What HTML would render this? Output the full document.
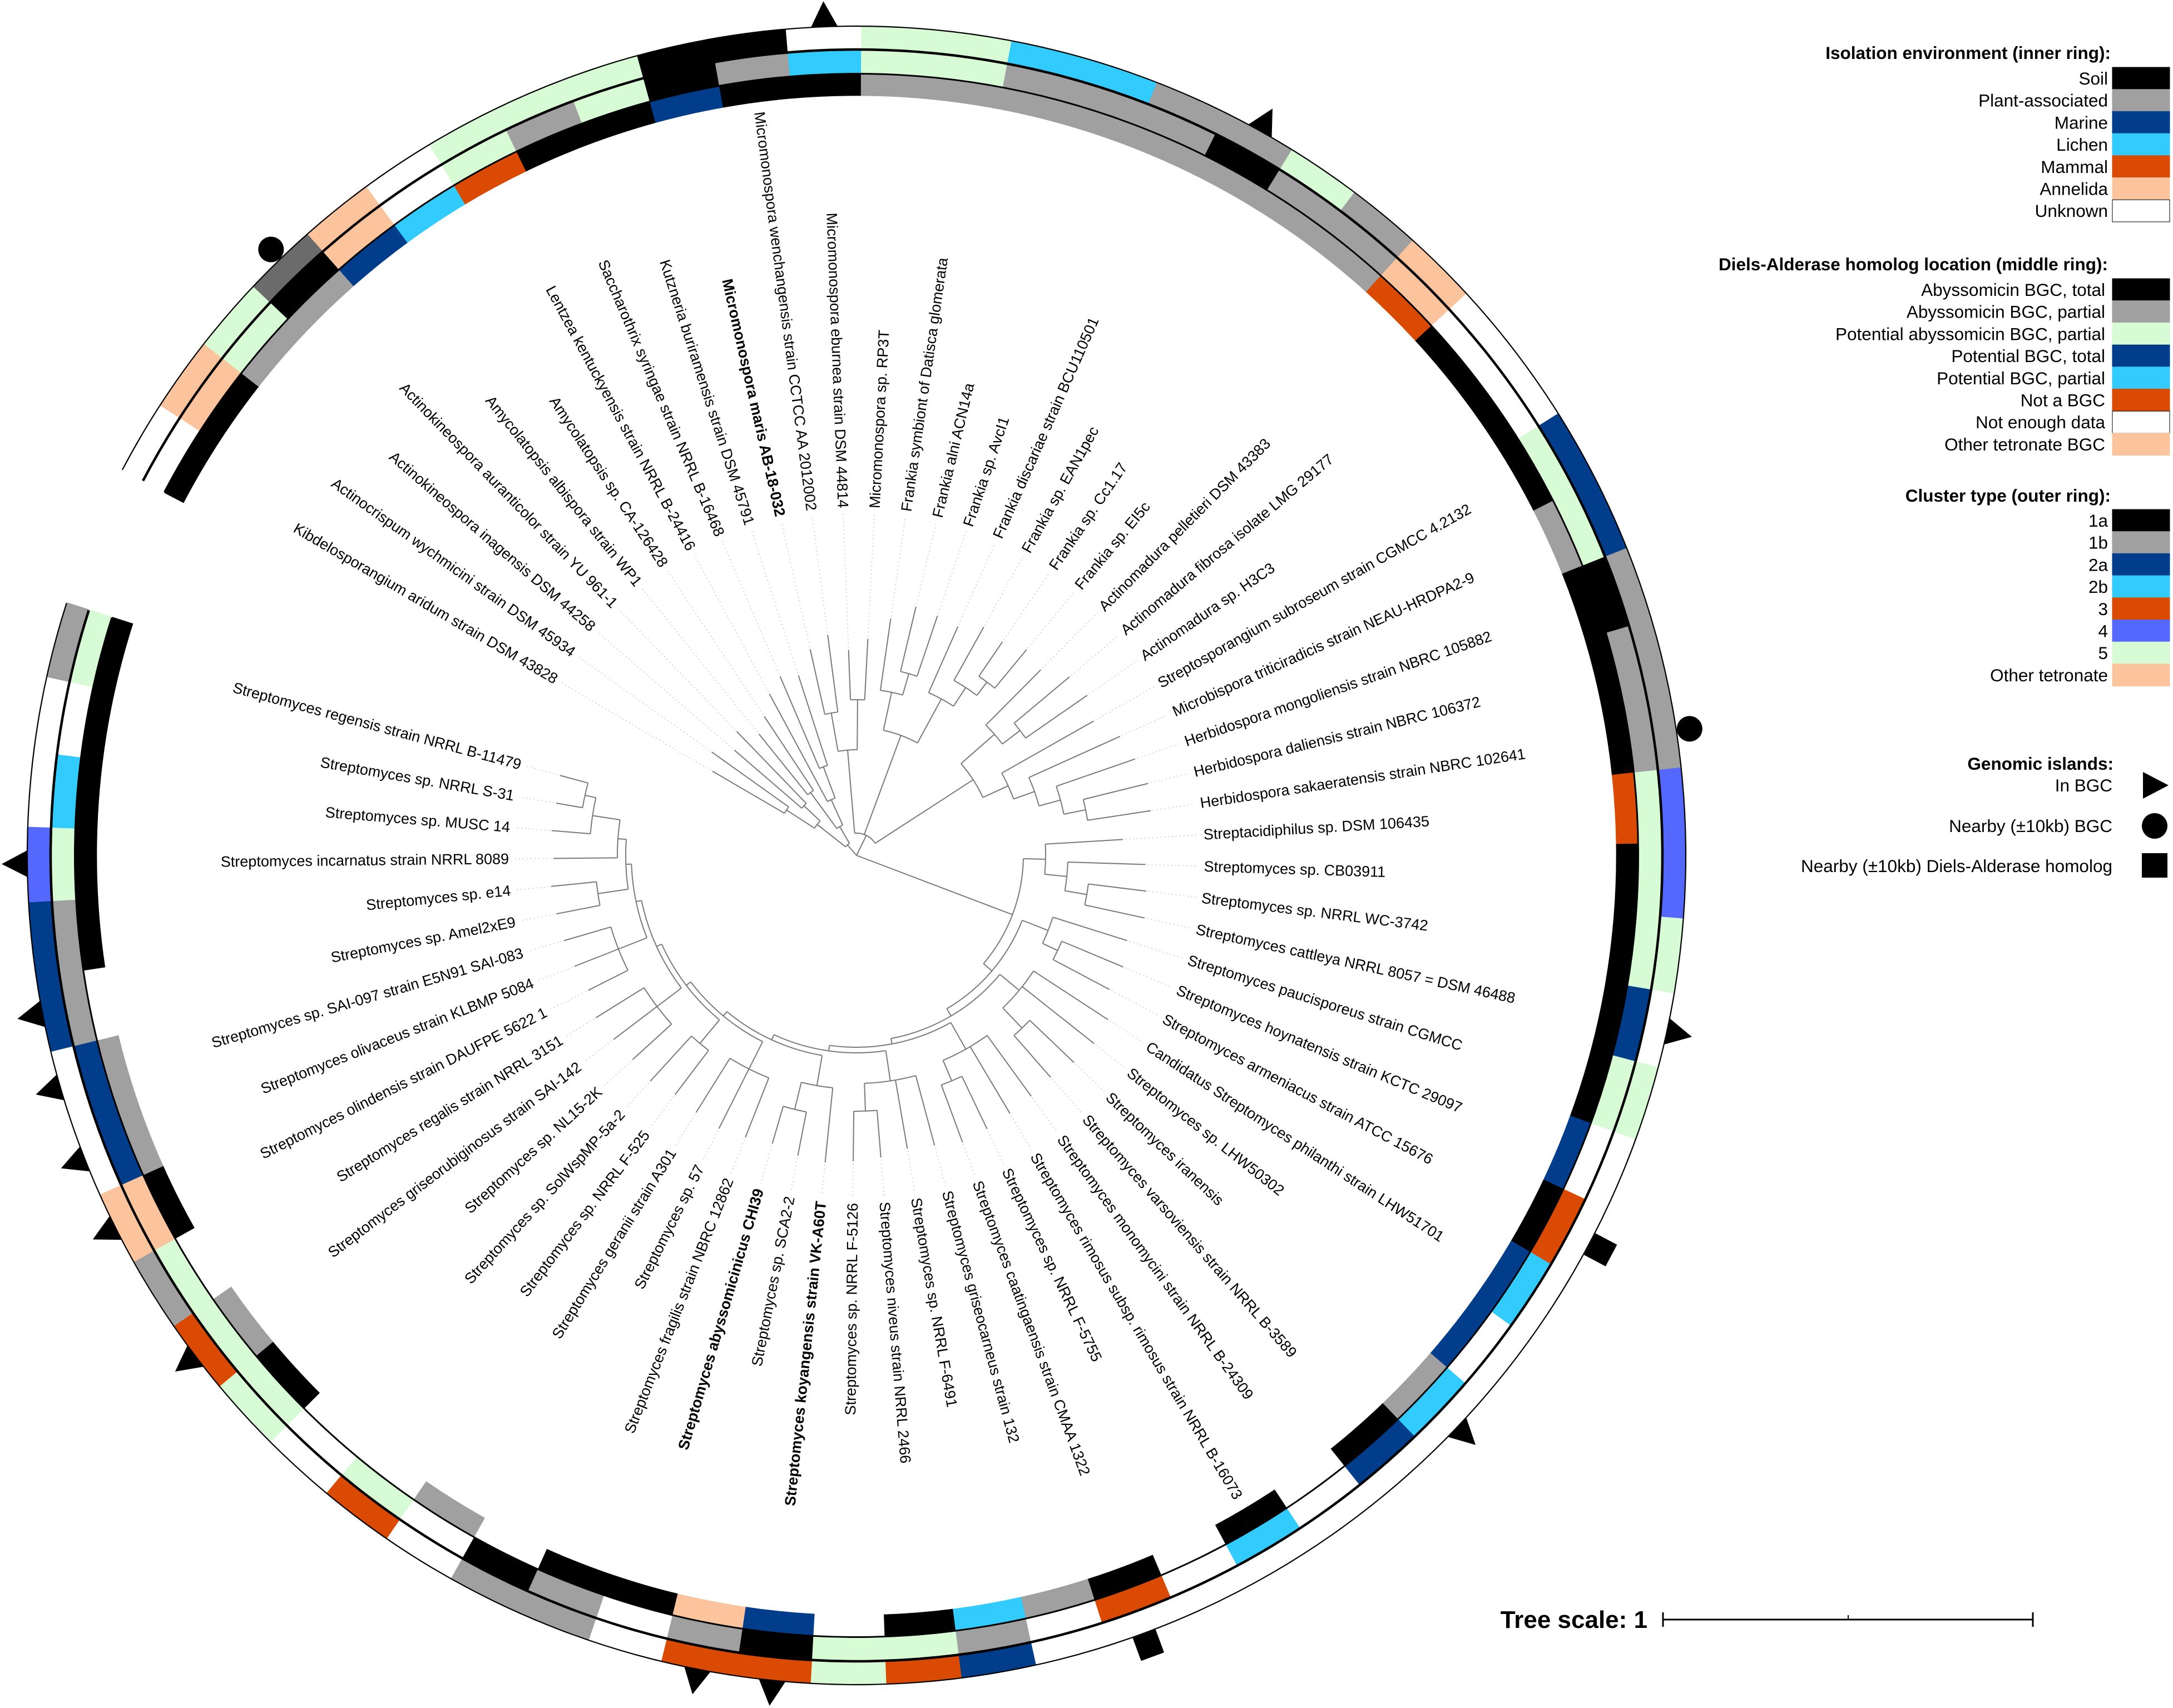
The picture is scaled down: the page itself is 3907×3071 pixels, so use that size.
<!DOCTYPE html>
<html><head><meta charset="utf-8"><title>Circular phylogenetic tree</title>
<style>
html,body{margin:0;padding:0;background:#fff;}
svg{display:block;font-family:"Liberation Sans",Arial,sans-serif;}
</style></head>
<body>
<svg id="chart" width="3907" height="3071" viewBox="0 0 3907 3071" xmlns="http://www.w3.org/2000/svg">
<g id="rings"></g>
<g id="outlines"></g>
<g id="markers"></g>
<g id="leaders"></g>
<g id="tree"></g>
<g id="labels"></g>
<g id="legend"></g>
<g id="scale">
  <text x="2962" y="2927" text-anchor="end" font-size="44" font-weight="bold">Tree scale: 1</text>
  <line x1="2990" y1="2912" x2="3655" y2="2912" stroke="#000" stroke-width="3"/>
  <line x1="2990" y1="2899" x2="2990" y2="2925" stroke="#000" stroke-width="3"/>
  <line x1="3323" y1="2904" x2="3323" y2="2912" stroke="#000" stroke-width="2"/>
  <line x1="3655" y1="2899" x2="3655" y2="2925" stroke="#000" stroke-width="3"/>
</g>
</svg>
<script>
// ---------- data ----------
const taxa = [
"Kibdelosporangium aridum strain DSM 43828","Actinocrispum wychmicini strain DSM 45934","Actinokineospora inagensis DSM 44258","Actinokineospora auranticolor strain YU 961-1","Amycolatopsis albispora strain WP1","Amycolatopsis sp. CA-126428","Lentzea kentuckyensis strain NRRL B-24416","Saccharothrix syringae strain NRRL B-16468","Kutzneria buriramensis strain DSM 45791","Micromonospora maris AB-18-032","Micromonospora wenchangensis strain CCTCC AA 2012002","Micromonospora eburnea strain DSM 44814","Micromonospora sp. RP3T","Frankia symbiont of Datisca glomerata","Frankia alni ACN14a","Frankia sp. AvcI1","Frankia discariae strain BCU110501","Frankia sp. EAN1pec","Frankia sp. Cc1.17","Frankia sp. EI5c","Actinomadura pelletieri DSM 43383","Actinomadura fibrosa isolate LMG 29177","Actinomadura sp. H3C3","Streptosporangium subroseum strain CGMCC 4.2132","Microbispora triticiradicis strain NEAU-HRDPA2-9","Herbidospora mongoliensis strain NBRC 105882","Herbidospora daliensis strain NBRC 106372","Herbidospora sakaeratensis strain NBRC 102641","Streptacidiphilus sp. DSM 106435","Streptomyces sp. CB03911","Streptomyces sp. NRRL WC-3742","Streptomyces cattleya NRRL 8057 = DSM 46488","Streptomyces paucisporeus strain CGMCC","Streptomyces hoynatensis strain KCTC 29097","Streptomyces armeniacus strain ATCC 15676","Candidatus Streptomyces philanthi strain LHW51701","Streptomyces sp. LHW50302","Streptomyces iranensis","Streptomyces varsoviensis strain NRRL B-3589","Streptomyces monomycini strain NRRL B-24309","Streptomyces rimosus subsp. rimosus strain NRRL B-16073","Streptomyces sp. NRRL F-5755","Streptomyces caatingaensis strain CMAA 1322","Streptomyces griseocarneus strain 132","Streptomyces sp. NRRL F-6491","Streptomyces niveus strain NRRL 2466","Streptomyces sp. NRRL F-5126","Streptomyces koyangensis strain VK-A60T","Streptomyces sp. SCA2-2","Streptomyces abyssomicinicus CHI39","Streptomyces fragilis strain NBRC 12862","Streptomyces sp. 57","Streptomyces geranii strain A301","Streptomyces sp. NRRL F-525","Streptomyces sp. SolWspMP-5a-2","Streptomyces sp. NL15-2K","Streptomyces griseorubiginosus strain SAI-142","Streptomyces regalis strain NRRL 3151","Streptomyces olindensis strain DAUFPE 5622 1","Streptomyces olivaceus strain KLBMP 5084","Streptomyces sp. SAI-097 strain E5N91 SAI-083","Streptomyces sp. Amel2xE9","Streptomyces sp. e14","Streptomyces incarnatus strain NRRL 8089","Streptomyces sp. MUSC 14","Streptomyces sp. NRRL S-31","Streptomyces regensis strain NRRL B-11479"];
const boldTaxa = [9,47,49];
const innerRing = ["K","K","G","G","DB","C","O","K","K","DB","K","K","G","G","G","G","G","G","G","G","O","K","K","K","G","K","K","K","O","K","K","K","K","DB","K","DB","DB","G","K","W","K","W","K","G","C","K","W","DB","P","K","K","W","G","W","W","K","G","W","K","G","G","W","K","K","K","K","K"];
const middleRing = ["W","P","LG","K","P","W","LG","G","LG","K","G","C","LG","LG","G","G","G","K","G","G","P","W","W","LG","LG","K","G","G","LG","LG","LG","DB","LG","W","O","C","W","C","DB","W","C","W","O","W","G","LG","LG","K","G","W","G","K","W","LG","W","LG","LG","LG","P","DB","DB","G","G","LG","C","W","LG"];
const outerRing = ["W","P","LG","DG","P","W","LG","LG","LG","K","K","W","LG","LG","C","C","G","G","LG","G","P","W","W","DB","DB","G","G","G","B4","B4","LG","W","LG","W","W","W","W","W","W","W","W","W","W","W","DB","O","LG","O","O","W","G","G","W","O","W","LG","O","G","P","W","W","DB","DB","B4","W","W","G"];
const triangleTaxa = [11,17,31,37,47,48,56,58,59,60,61,63];
const circleTaxa = [3,27];
const squareTaxa = [34,42];
const tipRadius = [300,320,290,310,280,300,330,350,340,380,400,370,390,430,460,455,450,470,465,480,470,500,505,490,520,530,540,535,480,520,525,530,510,520,515,540,545,540,530,535,540,545,550,540,535,545,550,555,550,540,545,550,545,540,550,545,548,552,540,545,548,550,552,545,550,548,552];
const legendEnv = ["Soil","Plant-associated","Marine","Lichen","Mammal","Annelida","Unknown"];
const legendEnvCodes = ["K","G","DB","C","O","P","W"];
const legendDA = ["Abyssomicin BGC, total","Abyssomicin BGC, partial","Potential abyssomicin BGC, partial","Potential BGC, total","Potential BGC, partial","Not a BGC","Not enough data","Other tetronate BGC"];
const legendDACodes = ["K","G","LG","DB","C","O","W","P"];
const legendCT = ["1a","1b","2a","2b","3","4","5","Other tetronate"];
const legendCTCodes = ["K","G","DB","C","O","B4","LG","P"];

const COLORS = {K:"#000000",G:"#a0a0a0",DB:"#013d8b",C:"#31ccfd",O:"#db4a02",P:"#fbc49d",W:"#ffffff",LG:"#d7fbd5",B4:"#5468fd",DG:"#6b6b6b"};

// tree topology (leaf = index, node radius in px)
const cladeP = {r:25,c:[{r:90,c:[{r:150,c:[0,1]},{r:130,c:[2,3]}]},{r:60,c:[{r:140,c:[4,5]},{r:110,c:[6,{r:170,c:[7,8]}]}]}]};
const cladeM1 = {r:190,c:[{r:260,c:[9,10]},{r:280,c:[11,12]}]};
const cladeM2 = {r:230,c:[{r:300,c:[13,{r:340,c:[14,15]}]},{r:320,c:[16,{r:360,c:[17,{r:390,c:[18,19]}]}]}]};
const cladeM3a = {r:340,c:[24,{r:380,c:[25,{r:420,c:[26,27]}]}]};
const cladeM3 = {r:250,c:[{r:330,c:[20,{r:370,c:[21,22]}]},{r:300,c:[23,cladeM3a]}]};
const cladeM = {r:40,c:[cladeM1,cladeM2,cladeM3]};
const sA = {r:340,c:[28,{r:380,c:[29,{r:420,c:[30,31]}]}]};
const sL9 = {r:430,c:[63,{r:480,c:[64,{r:500,c:[65,66]}]}]};
const sL8 = {r:415,c:[{r:470,c:[61,62]}, sL9]};
const sL7 = {r:405,c:[{r:460,c:[58,59,60]}, sL8]};
const sL6 = {r:395,c:[{r:450,c:[55,56,57]}, sL7]};
const sL5 = {r:385,c:[{r:440,c:[53,54]}, sL6]};
const sL4 = {r:375,c:[{r:430,c:[50,51,52]}, sL5]};
const sL3 = {r:365,c:[{r:420,c:[47,{r:470,c:[48,49]}]}, sL4]};
const sL2 = {r:355,c:[{r:410,c:[43,44,{r:460,c:[45,46]}]}, sL3]};
const sL1 = {r:345,c:[{r:400,c:[39,40,{r:440,c:[41,42]}]}, sL2]};
const sL0 = {r:335,c:[{r:380,c:[35,36,{r:430,c:[37,38]}]}, sL1]};
const sB = {r:320,c:[{r:370,c:[32,{r:400,c:[33,34]}]}, sL0]};
const cladeS = {r:300,c:[sA,sB]};
const treeData = {r:0,c:[cladeP,cladeM,cladeS]};

// ---------- geometry ----------
const NS = "http://www.w3.org/2000/svg";
const cx = 1540, cy = 1538;
const A0 = 152.3, STEP = 5.224;
const R_IN = [1366,1405], R_MID = [1406,1448], R_OUT = [1450,1491];
function ang(i){ return A0 - (i+0.5)*STEP; }
function P(r,a){ const t=a*Math.PI/180; return [cx+r*Math.cos(t), cy-r*Math.sin(t)]; }
function sector(r1,r2,a1,a2){
  const p1=P(r2,a1),p2=P(r2,a2),p3=P(r1,a2),p4=P(r1,a1); const L=(a1-a2)>180?1:0;
  return `M${p1[0]},${p1[1]}A${r2},${r2} 0 ${L} 1 ${p2[0]},${p2[1]}L${p3[0]},${p3[1]}A${r1},${r1} 0 ${L} 0 ${p4[0]},${p4[1]}Z`;
}
function arcPath(r,a1,a2){
  const p1=P(r,a1),p2=P(r,a2); const L=(a1-a2)>180?1:0;
  return `M${p1[0]},${p1[1]}A${r},${r} 0 ${L} 1 ${p2[0]},${p2[1]}`;
}
function mk(tag,attrs,parent){ const e=document.createElementNS(NS,tag); for(const k in attrs) e.setAttribute(k,attrs[k]); parent.appendChild(e); return e; }

// ---------- rings ----------
const gR = document.getElementById('rings');
function drawRing(vals, radii, name){
  vals.forEach((v,i)=>{
    const a1 = A0 - i*STEP, a2 = A0-(i+1)*STEP;
    const col = COLORS[v];
    const p = mk('path',{d:sector(radii[0],radii[1],a1+0.05,a2-0.05),fill:col,stroke:col,'stroke-width':0.6},gR);
    
    
  });
}
drawRing(innerRing, R_IN, 'inner-ring');
drawRing(middleRing, R_MID, 'middle-ring');
drawRing(outerRing, R_OUT, 'outer-ring');

const gO = document.getElementById('outlines');
const AEND = A0 - taxa.length*STEP;
[[1491,2.2],[1449,4.5],[1405.5,3]].forEach((o,k)=>{
  const mid = (A0+AEND)/2;
  const p = mk('path',{d:arcPath(o[0],A0,mid)+arcPath(o[0],mid,AEND),fill:'none',stroke:'#000','stroke-width':o[1]},gO);
  
  
});

// ---------- markers ----------
const gM = document.getElementById('markers');
triangleTaxa.forEach(i=>{
  const a=ang(i), p=P(1491,a);
  const t = mk('polygon',{points:"0,-24 0,24 46,0",fill:'#000',transform:`translate(${p[0]},${p[1]}) rotate(${-a})`},gM);
  
  
});
circleTaxa.forEach(i=>{
  const a=ang(i), p=P(1515,a);
  const c = mk('circle',{cx:p[0],cy:p[1],r:23,fill:'#000'},gM);
  
  
});
squareTaxa.forEach(i=>{
  const a=ang(i), p=P(1514,a);
  const s = mk('rect',{x:-22,y:-22,width:44,height:44,fill:'#000',transform:`translate(${p[0]},${p[1]}) rotate(${-a})`},gM);
  
  
});

// ---------- tree ----------
const gT = document.getElementById('tree');
const gL = document.getElementById('leaders');
function layout(n){
  if(typeof n==='number') return {a:ang(n), r:tipRadius[n]};
  const kids = n.c.map(layout);
  const as = kids.map(k=>k.a);
  const amax=Math.max(...as), amin=Math.min(...as);
  const a=(amax+amin)/2;
  if(n.r>0){
    const arc = mk('path',{d:arcPath(n.r,amax,amin),fill:'none',stroke:'#7a7a7a','stroke-width':2},gT);
    
    
  }
  kids.forEach(k=>{
    const p1=P(n.r,k.a), p2=P(k.r,k.a);
    const ln = mk('line',{x1:p1[0],y1:p1[1],x2:p2[0],y2:p2[1],stroke:'#7a7a7a','stroke-width':2},gT);
    
    
  });
  return {a:a, r:n.r};
}
layout(treeData);
taxa.forEach((t,i)=>{
  const a=ang(i), p1=P(tipRadius[i]+4,a), p2=P(615,a);
  const ln = mk('line',{x1:p1[0],y1:p1[1],x2:p2[0],y2:p2[1],stroke:'#c8c8c8','stroke-width':1.5,'stroke-dasharray':'2 5'},gL);
  
  
});

// ---------- labels ----------
const gLab = document.getElementById('labels');
taxa.forEach((t,i)=>{
  const a=ang(i), p=P(625,a);
  const right = Math.cos(a*Math.PI/180) >= 0;
  const rot = right ? -a : 180-a;
  const tx = mk('text',{x:p[0],y:p[1],'font-size':27,'text-anchor':right?'start':'end','dominant-baseline':'central',transform:`rotate(${rot} ${p[0]} ${p[1]})`},gLab);
  if(boldTaxa.includes(i)) tx.setAttribute('font-weight','bold');
  tx.textContent = t;
  
  
});

// ---------- legend ----------
const gLeg = document.getElementById('legend');
const LFS = 31.5;
function legendSection(title, items, codes, titleY, firstY, textX){
  const h = mk('text',{x:textX+5,y:titleY+11,'text-anchor':'end','font-size':LFS,'font-weight':'bold'},gLeg);
  h.textContent = title;
  
  
  items.forEach((it,k)=>{
    const y = firstY + k*39.7;
    const r = mk('rect',{x:3798,y:y,width:103,height:39.7,fill:COLORS[codes[k]],stroke:codes[k]==='W'?'#000':COLORS[codes[k]],'stroke-width':1},gLeg);
    
    
    const tx = mk('text',{x:textX,y:y+31,'text-anchor':'end','font-size':LFS},gLeg);
    tx.textContent = it;
    
    
  });
}
legendSection("Isolation environment (inner ring):", legendEnv, legendEnvCodes, 95, 121, 3790);
legendSection("Diels-Alderase homolog location (middle ring):", legendDA, legendDACodes, 475, 501, 3785);
legendSection("Cluster type (outer ring):", legendCT, legendCTCodes, 891, 916, 3790);

const gi = mk('text',{x:3800,y:1384,'text-anchor':'end','font-size':LFS,'font-weight':'bold'},gLeg);
gi.textContent = "Genomic islands:";


[["In BGC",1412],["Nearby (±10kb) BGC",1485],["Nearby (±10kb) Diels-Alderase homolog",1557]].forEach((e,k)=>{
  const tx = mk('text',{x:3798,y:e[1]+11,'text-anchor':'end','font-size':LFS},gLeg);
  tx.textContent = e[0];
  
  
});
const lt = mk('polygon',{points:"3853,1388 3853,1436 3899,1412",fill:'#000'},gLeg);


const lc = mk('circle',{cx:3874,cy:1485,r:23,fill:'#000'},gLeg);


const ls = mk('rect',{x:3851,y:1534,width:46,height:44,fill:'#000'},gLeg);


</script>
</body></html>
